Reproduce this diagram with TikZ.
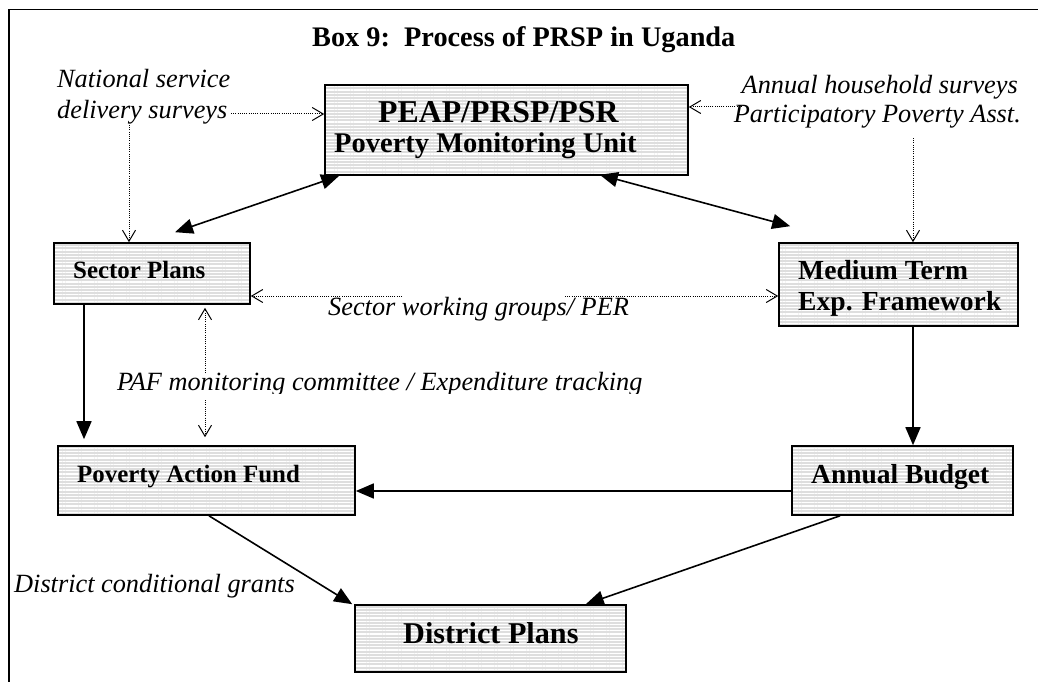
\documentclass[tikz,border=0pt]{standalone}
\usepackage{fontspec}
\setmainfont{Liberation Serif}
\usetikzlibrary{arrows.meta,patterns.meta}
\definecolor{boxgray}{RGB}{222,222,222}
\newcommand\fsz[1]{\fontsize{#1}{#1}\selectfont}
\tikzset{
  box/.style={draw=black, line width=1.6pt, inner sep=0pt,
    preaction={fill=boxgray},
    preaction={pattern={Lines[angle=0,distance=3.2pt,line width=1.1pt]}, pattern color=white}},
  txt/.style={inner sep=0pt, anchor=base west},
  txte/.style={inner sep=0pt, anchor=base east},
  boldtxt/.style={txt, font=\bfseries\fsz{#1}},
  ittxt/.style={txt, font=\itshape\fsz{26.3}},
  ittxte/.style={txte, font=\itshape\fsz{26.3}},
  dotarrow/.style={line width=1pt, dash pattern=on 1pt off 1.2pt,
    -{Straight Barb[length=11pt,width=13pt,line width=1pt]}},
  solidarrow/.style={line width=1.6pt, -{Triangle[length=18pt,width=15pt]}},
  dblarrow/.style={line width=1.6pt, {Triangle[length=18pt,width=15pt]}-{Triangle[length=18pt,width=15pt]}},
}
\begin{document}
\begin{tikzpicture}[x=1pt,y=-1pt]
\useasboundingbox (0,0) rectangle (1038,682);
% frame
\draw[line width=1.5pt] (9,682) -- (9,9.5) -- (1038,9.5);
% title
\node[boldtxt=28.3] (title) at (312,46.7) {Box 9:\ \ Process of PRSP in Uganda};

% boxes
\node[box, minimum width=363pt, minimum height=90pt] (peap) at (506.5,130) {};
\node[box, minimum width=196pt, minimum height=61pt] (sector) at (152,273.5) {};
\node[box, minimum width=239pt, minimum height=83pt] (mtef) at (898.5,284.5) {};
\node[box, minimum width=297pt, minimum height=69pt] (paf) at (206.5,480.5) {};
\node[box, minimum width=221pt, minimum height=69pt] (ab) at (902.5,480.5) {};
\node[box, minimum width=271pt, minimum height=67pt] (dist) at (490.5,638.5) {};

% box texts
\node[boldtxt=31.8] (peapa) at (378,122) {PEAP/PRSP/PSR};
\node[boldtxt=28.5] (peapb) at (334,153) {Poverty Monitoring Unit};
\node[boldtxt=24.9] (sectort) at (73,278) {Sector Plans};
\node[boldtxt=27.6] (mtefa) at (798,279) {Medium Term};
\node[boldtxt=27.6] (mtefb) at (798,310) {Exp. Framework};
\node[boldtxt=24.9] (paft) at (77,482) {Poverty Action Fund};
\node[boldtxt=27.5] (abt) at (811,483) {Annual Budget};
\node[boldtxt=30.2] (distt) at (403,643) {District Plans};

% italic labels
\node[ittxt] (nsd1) at (57,88) {National service};
\node[ittxt] (nsd2) at (57,118) {delivery surveys};
\node[ittxte] (ahs1) at (1018,94) {Annual household surveys};
\node[ittxte] (ahs2) at (1021,123) {Participatory Poverty Asst.};
\node[ittxt] (swg) at (328,315) {Sector working groups/ PER};
\begin{scope}
  \clip (0,0) rectangle (1038,393.5);
  \node[ittxt] (pafm) at (117,390) {PAF monitoring committee / Expenditure tracking};
\end{scope}
\node[ittxt] (dcg) at (14,592) {District conditional grants};

% helper coordinates
\coordinate (nsdh) at (231,114);
\coordinate (nsdv) at (129,125);
\coordinate (ahsh) at (742,107);
\coordinate (ahsv) at (913,138);
\coordinate (swgl) at (402,296);
\coordinate (swgr) at (565,296);
\coordinate (pmt1) at (205,373);
\coordinate (pmt2) at (205,400);
\coordinate (spx) at (84,0);
\coordinate (mx) at (913,0);
\coordinate (hy) at (0,491);

% dotted connectors
\draw[dotarrow] (nsdh) -- (nsdh -| peap.west);
\draw[dotarrow] (nsdv) -- (nsdv |- sector.north);
\draw[dotarrow] (ahsh) -- (ahsh -| peap.east);
\draw[dotarrow] (ahsv) -- (ahsv |- mtef.north);
\draw[dotarrow] (swgl) -- (swgl -| sector.east);
\draw[dotarrow] (swgr) -- (swgr -| mtef.west);
\draw[dotarrow, shorten >=3pt] (pmt1) -- (pmt1 |- sector.south);
\draw[dotarrow, shorten >=8pt] (pmt2) -- (pmt2 |- paf.north);

% solid connectors
\draw[dblarrow] ([xshift=23pt,yshift=10pt]sector.north) -- ([xshift=15pt]peap.south west);
\draw[dblarrow] ([xshift=-89pt,yshift=1pt]peap.south east) -- ([xshift=12pt,yshift=16pt]mtef.north west);
\draw[solidarrow, shorten >=6pt] (spx |- sector.south) -- (spx |- paf.north);
\draw[solidarrow] (mx |- mtef.south) -- (mx |- ab.north);
\draw[solidarrow] (ab.west |- hy) -- (paf.east |- hy);
\draw[solidarrow] ([xshift=2.5pt]paf.south) -- ([xshift=-2pt]dist.north west);
\draw[solidarrow] ([xshift=-62.5pt]ab.south) -- ([xshift=-41pt]dist.north east);
\end{tikzpicture}
\end{document}
